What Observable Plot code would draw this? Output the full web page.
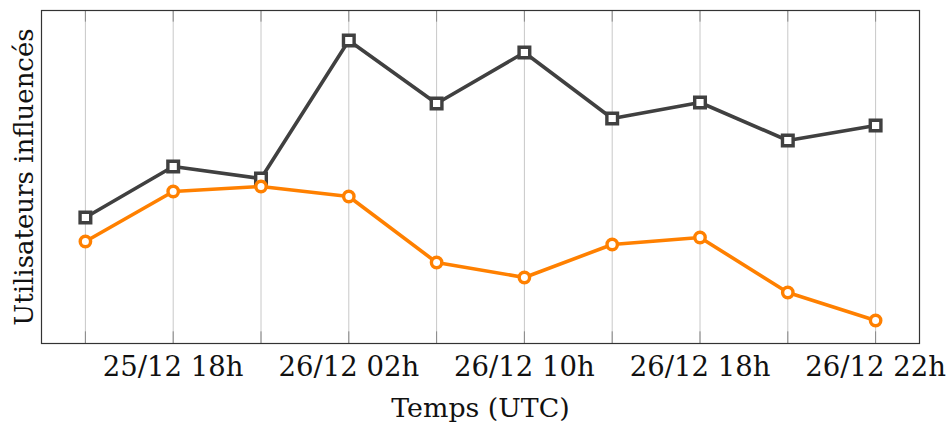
<!DOCTYPE html>
<html><head><meta charset="utf-8">
<script src="https://cdn.jsdelivr.net/npm/d3@7"></script>
<script src="https://cdn.jsdelivr.net/npm/@observablehq/plot@0.6"></script>
<style>body{margin:0;background:#fff;} svg{display:block;}</style>
</head><body><div id="chart"></div>
<script>
const timeIndex = [0,1,2,3,4,5,6,7,8,9];
const seriesDark = [126,177,165,303,240,291,225,241,203,218];
const seriesOrange = [102,152,157,147,81,66,99,106,51,23];
const tickIndex = [1,3,5,7,9];
const tickLabels = ["25/12 18h","26/12 02h","26/12 10h","26/12 18h","26/12 22h"];
const xLabel = "Temps (UTC)";
const yLabel = "Utilisateurs influencés";

const dark = timeIndex.map((t,i)=>({t, v: seriesDark[i]}));
const orange = timeIndex.map((t,i)=>({t, v: seriesOrange[i]}));
const ticks = tickIndex.map((t,i)=>({t, label: tickLabels[i]}));
const yMax = 333;
const font = "DejaVu Serif";

const plot = Plot.plot({
  width: 951, height: 424,
  marginLeft: 41, marginRight: 32, marginTop: 10, marginBottom: 81,
  style: {fontFamily: font, background: "#fff"},
  x: {domain: [-0.5, 9.5], axis: null},
  y: {domain: [0, yMax], axis: null},
  marks: [
    Plot.ruleX(timeIndex, {x: d=>d, stroke: "#c8c8c8", strokeWidth: 1}),
    Plot.ruleX(timeIndex, {x: d=>d, y1: 0, y2: yMax*0.035, stroke: "#888", strokeWidth: 1}),
    Plot.ruleX(timeIndex, {x: d=>d, y1: yMax*0.965, y2: yMax, stroke: "#888", strokeWidth: 1}),
    Plot.frame({stroke: "#333", strokeWidth: 1.2}),
    Plot.line(dark, {x: "t", y: "v", stroke: "#404040", strokeWidth: 3.6}),
    Plot.line(orange, {x: "t", y: "v", stroke: "#ff8000", strokeWidth: 3.6}),
    Plot.dot(dark, {x: "t", y: "v", symbol: "square", r: 6, stroke: "#404040", strokeWidth: 3.4, fill: "white"}),
    Plot.dot(orange, {x: "t", y: "v", r: 5.2, stroke: "#ff8000", strokeWidth: 3.4, fill: "white"}),
    Plot.text(ticks, {x: "t", text: "label", frameAnchor: "bottom", dy: 24, lineAnchor: "middle", fontSize: 27.5, fill: "#111"}),
    Plot.text([xLabel], {text: d=>d, frameAnchor: "bottom", dy: 65, lineAnchor: "middle", fontSize: 26.8, fill: "#111"}),
    Plot.text([yLabel], {text: d=>d, frameAnchor: "left", dx: -17, rotate: -90, lineAnchor: "middle", textAnchor: "middle", fontSize: 26, fill: "#111"})
  ]
});
document.getElementById("chart").appendChild(plot);
</script>
</body></html>
